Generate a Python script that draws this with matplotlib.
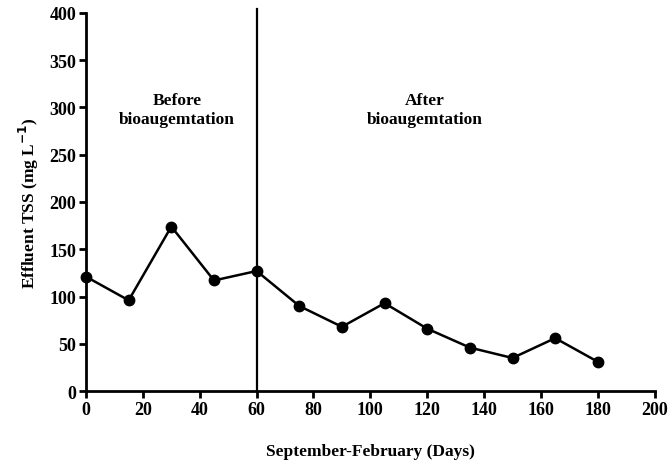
import matplotlib
matplotlib.use("Agg")
import matplotlib.pyplot as plt

days = [0, 15, 30, 45, 60, 75, 90, 105, 120, 135, 150, 165, 180]
tss = [121, 96, 174, 117, 127, 90, 68, 93, 66, 46, 35, 56, 31]
xticks = [0, 20, 40, 60, 80, 100, 120, 140, 160, 180, 200]
yticks = [0, 50, 100, 150, 200, 250, 300, 350, 400]
split_day = 60

plt.rcParams['font.family'] = ['Liberation Serif', 'DejaVu Serif']
plt.rcParams['font.weight'] = 'bold'

fig = plt.figure(figsize=(6.69, 4.64), dpi=100)
ax = fig.add_axes([0.1286, 0.155, 0.850, 0.815])

ax.plot(days, tss, color='black', lw=1.8, marker='o', ms=7.5, zorder=3, clip_on=False)
ax.axvline(split_day, ymin=0, ymax=1.01, color='black', lw=1.6, clip_on=False)

ax.set_xlim(0, 200)
ax.set_ylim(0, 400)
ax.set_xticks(xticks)
ax.set_yticks(yticks)
for s in ['top', 'right']:
    ax.spines[s].set_visible(False)
for s in ['left', 'bottom']:
    ax.spines[s].set_linewidth(2)
ax.tick_params(direction='out', width=2, length=5, labelsize=13, pad=2)
for lab in ax.get_xticklabels() + ax.get_yticklabels():
    lab.set_fontweight('bold')

ax.text(32, 298, 'Before\nbioaugemtation', ha='center', va='center', fontsize=12.5,
        fontweight='bold', linespacing=1.2)
ax.text(119, 298, 'After\nbioaugemtation', ha='center', va='center', fontsize=12.5,
        fontweight='bold', linespacing=1.2)

ax.set_xlabel('September-February (Days)', fontsize=12.5, fontweight='bold', labelpad=18)
ax.set_ylabel('Effluent TSS (mg L$^{\\mathbf{-1}}$)', fontsize=12.5, fontweight='bold', labelpad=6)

fig.savefig('out.png', dpi=100)
